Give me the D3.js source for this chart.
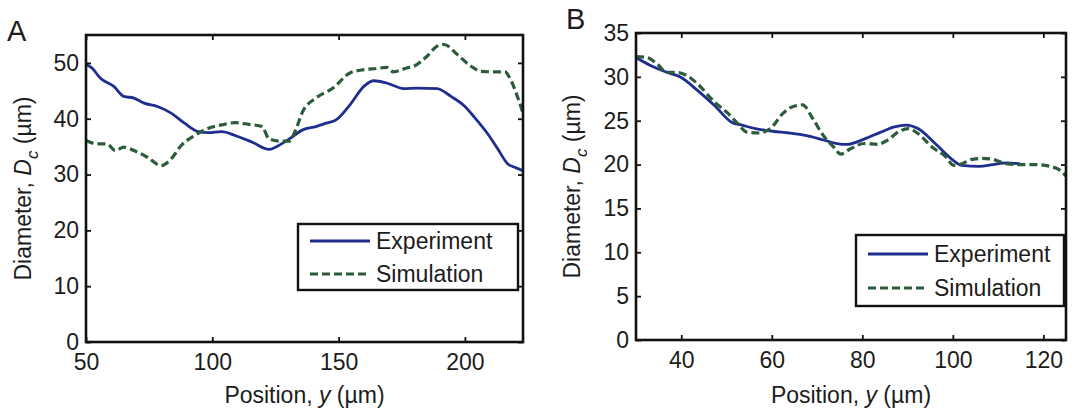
<!DOCTYPE html>
<html><head><meta charset="utf-8">
<script src="https://cdn.jsdelivr.net/npm/d3@7"></script>
<style>
html,body{margin:0;padding:0;background:#fff;}
svg{display:block;font-family:"Liberation Sans",Arial,sans-serif;}
</style></head>
<body><svg id="c" width="1081" height="413"></svg>
<script>
// ---------- data ----------
const seriesNames = ["Experiment", "Simulation"];

// Panel A
const aExpX = [50,52.3,55.6,61,65,69,73,78.3,83.7,89,94.4,98.4,103.7,109,115.8,122.5,125,130.5,135.8,141,145,149,154.5,160,164,169,175.7,181,189,194.5,200,203.5,209,213,217,219.7,223];
const aExpY = [49.7,49.1,47.3,45.8,44,43.7,42.8,42.2,41,39.2,37.7,37.5,37.7,37,35.8,34.5,34.9,36.4,38,38.6,39.2,39.8,42.5,45.8,46.8,46.4,45.4,45.5,45.4,44,42.2,40.4,37.3,34.6,31.9,31.3,30.7];
const aSimX = [50,54.3,58.3,61.6,65,69,74.3,79.7,83.7,87.7,93,98.4,103.7,109,114.4,119.7,122.4,126.5,130.5,133,135.8,141,147.8,154.5,160,165,169,171.7,177,179.8,185,189,191.7,197,202.4,206.4,211.7,215.8,218.4,221,223];
const aSimY = [36.1,35.5,35.5,34.3,34.9,34.3,33.1,31.6,32.8,35.2,37,38.3,38.9,39.3,39,38.6,36.4,36,36,38,41.3,43.7,45.5,48.2,48.8,49,49.2,48.4,49.1,49.4,51.2,53,53.3,51.5,49.4,48.5,48.4,48.4,46.7,43.7,41];
const aXTicks = [50,100,150,200];
const aYTicks = [0,10,20,30,40,50];

// Panel B
const bExpX = [30,33.2,36.9,39.9,43.7,47.4,51.2,53.4,56.4,60.2,63.9,67.7,71.4,74.4,76.6,80.4,84.1,87.1,89.7,92.3,96.1,99.8,102,105.8,108.8,111.8,114.8];
const bExpY = [32.2,31.3,30.5,29.96,28.4,26.7,24.8,24.5,24.1,23.8,23.6,23.3,22.8,22.4,22.3,22.9,23.7,24.3,24.5,24.1,22.4,20.6,19.9,19.8,20,20.2,20.1];
const bSimX = [30,32.4,34.6,36.9,39.1,41.4,43.6,47.4,50.4,52.6,54.5,57.1,59.7,62.4,64.6,66.8,69.1,71.4,73.7,75.2,77.4,80.4,83.4,85.6,87.9,90.1,92.4,95.4,98.4,100.2,102,104.3,106.5,108.8,111.8,114.8,118.5,121.5,123.8,125];
const bSimY = [32.3,32.2,31.5,30.5,30.5,30.1,29.2,27.1,25.8,24.6,23.7,23.6,24.1,25.8,26.6,26.8,25.2,23.3,22,21.2,21.8,22.4,22.3,22.8,23.7,24.1,23.5,22,20.9,19.9,20.1,20.6,20.7,20.6,20.1,20,20,19.8,19.3,18.7];
const bXTicks = [40,60,80,100,120];
const bYTicks = [0,5,10,15,20,25,30,35];

// ---------- drawing ----------
const svg = d3.select("#c");
const expColor = "#1f2d8f", simColor = "#2b5c3c";
const FS = 23;
const TXT = "#1c1c1c";

function zip(xs, ys){ return xs.map((x,i)=>[x, ys[i]]); }

function panel(cfg){
  const g = svg.append("g");
  const x = d3.scaleLinear().domain(cfg.xDomain).range([cfg.left, cfg.right]);
  const y = d3.scaleLinear().domain(cfg.yDomain).range([cfg.bottom, cfg.top]);
  const tl = 5;

  // lines
  const line = d3.line().x(d=>x(d[0])).y(d=>y(d[1])).curve(d3.curveMonotoneX);
  const clipId = "clip" + cfg.label;
  svg.append("clipPath").attr("id", clipId).append("rect")
    .attr("x", cfg.left).attr("y", cfg.top).attr("width", cfg.right-cfg.left).attr("height", cfg.bottom-cfg.top);
  const lg = g.append("g").attr("clip-path", `url(#${clipId})`);
  lg.append("path").datum(zip(cfg.expX, cfg.expY)).attr("d", line)
    .attr("fill","none").attr("stroke", expColor).attr("stroke-width", 2.8).attr("stroke-linejoin","round");
  lg.append("path").datum(zip(cfg.simX, cfg.simY)).attr("d", line)
    .attr("fill","none").attr("stroke", simColor).attr("stroke-width", 3.2)
    .attr("stroke-dasharray","8,4");

  // axes (ticks inward on all sides)
  const bottomAx = d3.axisBottom(x).tickValues(cfg.xTicks).tickSize(-tl).tickPadding(12).tickFormat(d3.format("d"));
  const topAx = d3.axisTop(x).tickValues(cfg.xTicks).tickSize(-tl).tickFormat("");
  const leftAx = d3.axisLeft(y).tickValues(cfg.yTicks).tickSize(-tl).tickPadding(7).tickFormat(d3.format("d"));
  const rightAx = d3.axisRight(y).tickValues(cfg.yTicks).tickSize(-tl).tickFormat("");
  const styleAx = sel => {
    sel.select(".domain").remove();
    sel.selectAll(".tick line").attr("stroke","#111").attr("stroke-width",1.8);
    sel.selectAll(".tick text").attr("fill",TXT).style("font-size", FS+"px").style("font-family","Liberation Sans, Arial, sans-serif");
  };
  g.append("g").attr("transform",`translate(0,${cfg.bottom})`).call(bottomAx).call(styleAx);
  g.append("g").attr("transform",`translate(0,${cfg.top})`).call(topAx).call(styleAx);
  g.append("g").attr("transform",`translate(${cfg.left},0)`).call(leftAx).call(styleAx);
  g.append("g").attr("transform",`translate(${cfg.right},0)`).call(rightAx).call(styleAx);

  // box
  g.append("rect").attr("x",cfg.left).attr("y",cfg.top)
    .attr("width",cfg.right-cfg.left).attr("height",cfg.bottom-cfg.top)
    .attr("fill","none").attr("stroke","#111").attr("stroke-width",2.6);

  // x title
  const xt = g.append("text").attr("x",(cfg.left+cfg.right)/2).attr("y",403)
    .attr("text-anchor","middle").attr("fill",TXT).style("font-size",FS+"px");
  xt.append("tspan").text("Position, ");
  xt.append("tspan").attr("font-style","italic").text("y");
  xt.append("tspan").text(" (\u00b5m)");

  // y title
  const yc = (cfg.top+cfg.bottom)/2;
  const yt = g.append("text").attr("transform",`translate(${cfg.ytx},${yc}) rotate(-90)`)
    .attr("text-anchor","middle").attr("fill",TXT).style("font-size",FS+"px");
  yt.append("tspan").text("Diameter, ");
  yt.append("tspan").attr("font-style","italic").text("D");
  yt.append("tspan").attr("font-style","italic").attr("dy",7).style("font-size","17px").text("c");
  yt.append("tspan").attr("dy",-7).text(" (\u00b5m)");

  // panel label
  g.append("text").attr("x",cfg.labX).attr("y",cfg.labY).attr("fill",TXT)
    .style("font-size","29px").text(cfg.label);

  // legend
  const L = cfg.legend;
  g.append("rect").attr("x",L.x).attr("y",L.y).attr("width",L.w).attr("height",L.h)
    .attr("fill","#fff").attr("stroke","#111").attr("stroke-width",2.4);
  const rows = [{c:expColor,dash:null,w:3},{c:simColor,dash:"8,4",w:3.2}];
  seriesNames.forEach((name,i)=>{
    const ry = L.y + L.r0 + i*L.dy;
    g.append("line").attr("x1",L.x+L.lx0).attr("x2",L.x+L.lx1).attr("y1",ry).attr("y2",ry)
      .attr("stroke",rows[i].c).attr("stroke-width",rows[i].w).attr("stroke-dasharray",rows[i].dash);
    g.append("text").attr("x",L.x+L.tx).attr("y",ry).attr("dy","0.35em").attr("fill",TXT)
      .style("font-size",FS+"px").text(name);
  });
}

panel({label:"A", labX:7, labY:41,
  left:86, right:523, top:35, bottom:342, xDomain:[50,223], yDomain:[0,55],
  xTicks:aXTicks, yTicks:aYTicks, expX:aExpX, expY:aExpY, simX:aSimX, simY:aSimY, ytx:31,
  legend:{x:298,y:224,w:220,h:66,r0:17,dy:33,lx0:12,lx1:72,tx:78}});

panel({label:"B", labX:566, labY:29,
  left:636, right:1066, top:33, bottom:340, xDomain:[30,125], yDomain:[0,35],
  xTicks:bXTicks, yTicks:bYTicks, expX:bExpX, expY:bExpY, simX:bSimX, simY:bSimY, ytx:580,
  legend:{x:856,y:235,w:208,h:71,r0:19,dy:34,lx0:12,lx1:72,tx:78}});
</script>
</body></html>
